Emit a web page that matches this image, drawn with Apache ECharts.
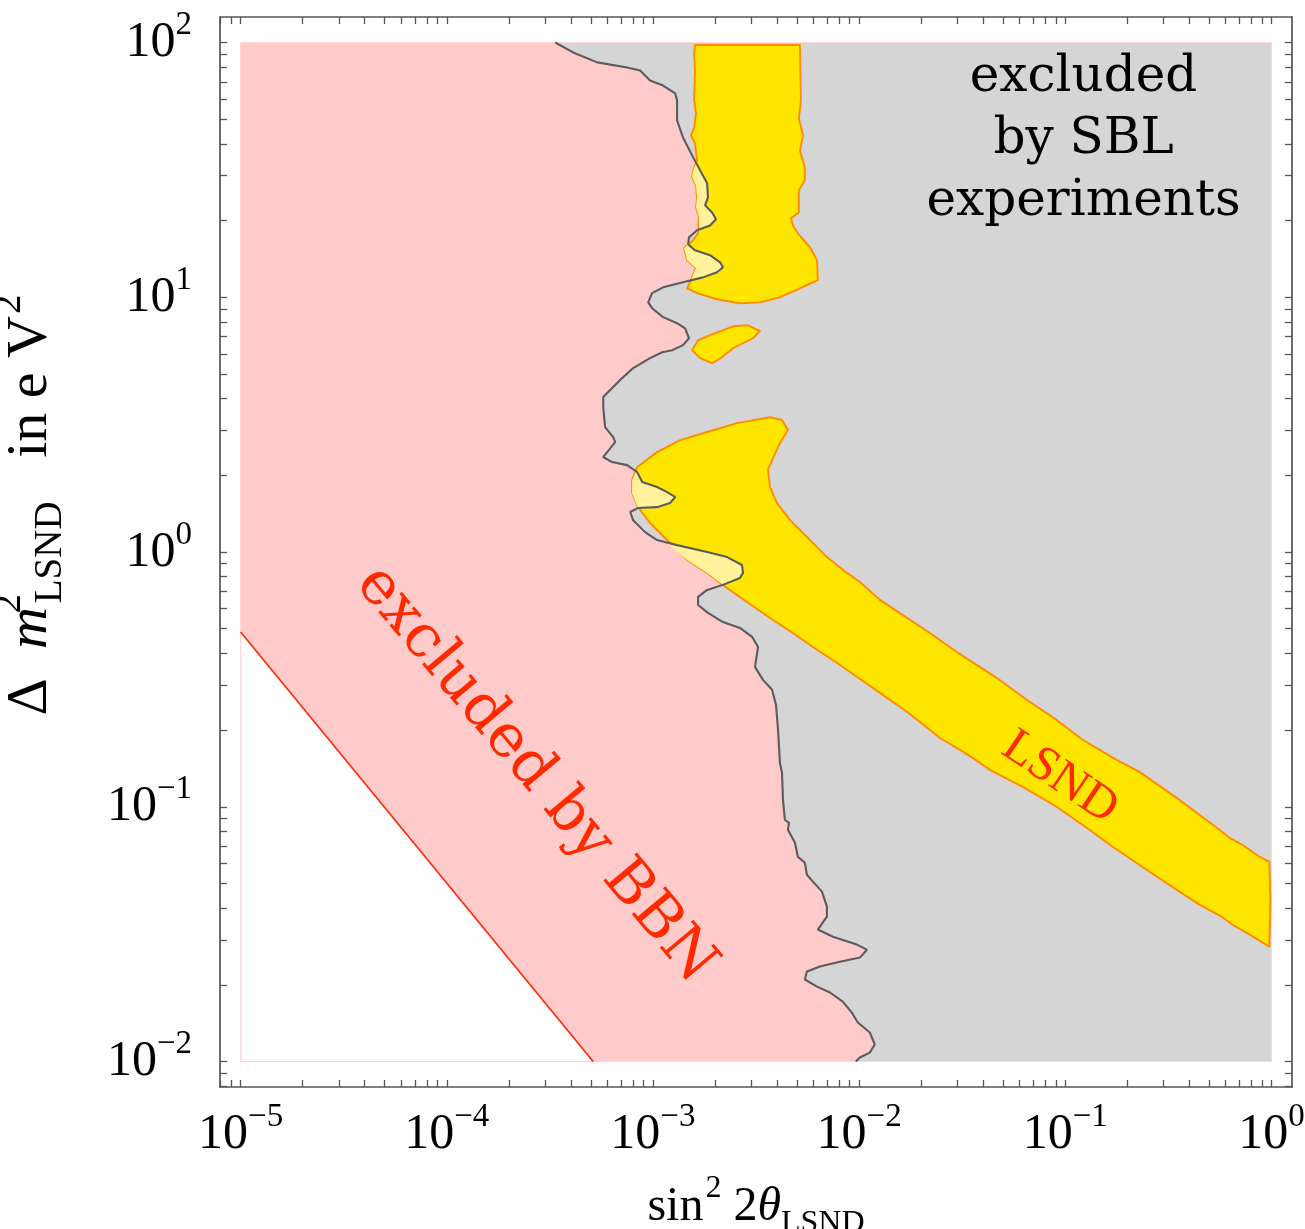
<!DOCTYPE html>
<html>
<head>
<meta charset="utf-8">
<script src="https://cdn.jsdelivr.net/npm/echarts@6/dist/echarts.min.js"></script>
<style>
  html, body { margin: 0; padding: 0; background: #ffffff; }
  #chart { width: 1305px; height: 1229px; }
</style>
</head>
<body>
<div id="chart"></div>
<script>
// Every point is stored as [log10(sin^2 2θ), log10(Δm^2 / eV^2)].

// Axis decades that carry a "10^n" label
const xDecades = [-5, -4, -3, -2, -1, 0];
const yDecades = [-2, -1, 0, 1, 2];
const minorFactors = [2, 3, 4, 5, 6, 7, 8, 9];

// Short-baseline exclusion contour (excluded to its right)
const sblBoundary = [
  [-3.474, 2.000], [-3.387, 1.961], [-3.270, 1.922], [-3.125, 1.902], [-3.062, 1.890],
  [-3.014, 1.851], [-2.951, 1.831], [-2.892, 1.800], [-2.883, 1.773], [-2.883, 1.694],
  [-2.854, 1.627], [-2.805, 1.549], [-2.737, 1.447], [-2.733, 1.392], [-2.747, 1.361],
  [-2.713, 1.333], [-2.694, 1.306], [-2.723, 1.282], [-2.786, 1.263], [-2.825, 1.235],
  [-2.829, 1.208], [-2.796, 1.184], [-2.723, 1.165], [-2.674, 1.137], [-2.660, 1.118],
  [-2.689, 1.098], [-2.757, 1.078], [-2.854, 1.059], [-2.951, 1.039], [-3.004, 1.016],
  [-3.023, 0.980], [-3.004, 0.957], [-2.951, 0.922], [-2.883, 0.898], [-2.844, 0.878],
  [-2.825, 0.839], [-2.854, 0.812], [-2.907, 0.792], [-2.955, 0.784], [-3.014, 0.761],
  [-3.096, 0.722], [-3.159, 0.675], [-3.241, 0.608], [-3.241, 0.569], [-3.232, 0.490],
  [-3.193, 0.451], [-3.183, 0.431], [-3.222, 0.392], [-3.241, 0.373], [-3.198, 0.353],
  [-3.125, 0.341], [-3.077, 0.314], [-3.052, 0.275], [-2.980, 0.255], [-2.931, 0.235],
  [-2.892, 0.216], [-2.917, 0.192], [-2.980, 0.176], [-3.072, 0.173], [-3.110, 0.157],
  [-3.096, 0.125], [-3.038, 0.078], [-2.980, 0.047], [-2.883, 0.027], [-2.737, 0.000],
  [-2.640, -0.020], [-2.568, -0.051], [-2.563, -0.082], [-2.578, -0.102], [-2.660, -0.129],
  [-2.737, -0.149], [-2.781, -0.176], [-2.781, -0.208], [-2.733, -0.239], [-2.660, -0.275],
  [-2.578, -0.298], [-2.519, -0.333], [-2.490, -0.373], [-2.505, -0.451], [-2.466, -0.502],
  [-2.422, -0.541], [-2.403, -0.600], [-2.393, -0.698], [-2.384, -0.827], [-2.374, -0.867],
  [-2.369, -0.973], [-2.360, -1.051], [-2.340, -1.063], [-2.345, -1.090], [-2.311, -1.141],
  [-2.297, -1.196], [-2.263, -1.220], [-2.253, -1.267], [-2.224, -1.294], [-2.180, -1.333],
  [-2.156, -1.392], [-2.156, -1.431], [-2.200, -1.482], [-2.127, -1.510], [-2.011, -1.541],
  [-1.962, -1.561], [-1.996, -1.592], [-2.093, -1.608], [-2.190, -1.627], [-2.253, -1.647],
  [-2.263, -1.678], [-2.204, -1.706], [-2.141, -1.729], [-2.079, -1.765], [-2.035, -1.808],
  [-2.006, -1.847], [-1.948, -1.886], [-1.924, -1.933], [-1.948, -1.965], [-1.996, -1.984],
  [-2.016, -2.000]
];

// BBN bound: the region below/left of this line is allowed
const bbnLine = [[-5.000, -0.314], [-3.290, -2.000]];

// LSND allowed regions
const lsndUpper = [
  [-2.796, 1.990], [-2.800, 1.957], [-2.796, 1.890], [-2.800, 1.773], [-2.791, 1.722],
  [-2.800, 1.667], [-2.815, 1.635], [-2.796, 1.604], [-2.786, 1.537], [-2.805, 1.498],
  [-2.810, 1.471], [-2.791, 1.439], [-2.786, 1.392], [-2.791, 1.353], [-2.776, 1.314],
  [-2.781, 1.251], [-2.805, 1.224], [-2.849, 1.192], [-2.834, 1.145], [-2.791, 1.114],
  [-2.810, 1.078], [-2.834, 1.035], [-2.786, 1.016], [-2.689, 0.992], [-2.578, 0.976],
  [-2.481, 0.980], [-2.384, 1.000], [-2.287, 1.035], [-2.200, 1.067], [-2.204, 1.145],
  [-2.238, 1.196], [-2.297, 1.251], [-2.321, 1.282], [-2.330, 1.310], [-2.292, 1.333],
  [-2.292, 1.420], [-2.263, 1.459], [-2.263, 1.510], [-2.287, 1.576], [-2.272, 1.635],
  [-2.292, 1.702], [-2.282, 1.773], [-2.287, 1.990]
];
const lsndIsland = [
  [-2.810, 0.792], [-2.781, 0.831], [-2.723, 0.851], [-2.611, 0.886], [-2.539, 0.890],
  [-2.481, 0.867], [-2.515, 0.839], [-2.611, 0.800], [-2.665, 0.765], [-2.713, 0.741],
  [-2.771, 0.761]
];
const lsndMain = [
  [-3.077, 0.333], [-2.980, 0.392], [-2.868, 0.439], [-2.737, 0.471], [-2.592, 0.506],
  [-2.432, 0.529], [-2.374, 0.518], [-2.345, 0.478], [-2.384, 0.427], [-2.422, 0.361],
  [-2.442, 0.322], [-2.432, 0.255], [-2.398, 0.192], [-2.335, 0.125], [-2.253, 0.059],
  [-2.156, -0.020], [-2.059, -0.082], [-1.996, -0.118], [-1.899, -0.188], [-1.802, -0.240],
  [-1.657, -0.318], [-1.512, -0.400], [-1.318, -0.502], [-1.187, -0.580], [-1.042, -0.659],
  [-0.916, -0.737], [-0.751, -0.816], [-0.640, -0.863], [-0.446, -0.973], [-0.252, -1.090],
  [-0.203, -1.122], [-0.141, -1.149], [-0.058, -1.196], [-0.010, -1.216], [-0.005, -1.365],
  [-0.010, -1.549], [-0.121, -1.494], [-0.189, -1.463], [-0.242, -1.431], [-0.349, -1.384],
  [-0.446, -1.333], [-0.591, -1.255], [-0.770, -1.157], [-0.882, -1.090], [-1.042, -1.000],
  [-1.206, -0.922], [-1.366, -0.855], [-1.449, -0.808], [-1.512, -0.776], [-1.609, -0.729],
  [-1.657, -0.698], [-1.768, -0.627], [-1.899, -0.553], [-2.011, -0.490], [-2.108, -0.435],
  [-2.224, -0.373], [-2.321, -0.318], [-2.432, -0.259], [-2.544, -0.196], [-2.640, -0.141],
  [-2.737, -0.082], [-2.834, -0.031], [-2.931, 0.047], [-3.014, 0.114], [-3.072, 0.176],
  [-3.101, 0.231], [-3.101, 0.282]
];

// Pieces of the LSND regions that lie on the BBN side of the SBL contour
const lsndPale1 = [
  [-2.791, 1.525], [-2.737, 1.447], [-2.733, 1.392], [-2.747, 1.361], [-2.713, 1.333],
  [-2.694, 1.306], [-2.723, 1.282], [-2.776, 1.267], [-2.776, 1.314], [-2.791, 1.353],
  [-2.786, 1.392], [-2.791, 1.439], [-2.810, 1.471], [-2.805, 1.498]
];
const lsndPale2 = [
  [-2.829, 1.208], [-2.796, 1.184], [-2.723, 1.165], [-2.674, 1.137], [-2.660, 1.118],
  [-2.689, 1.098], [-2.757, 1.078], [-2.815, 1.067], [-2.810, 1.078], [-2.791, 1.114],
  [-2.834, 1.145], [-2.849, 1.192]
];
const lsndPale3 = [
  [-3.081, 0.318], [-3.052, 0.275], [-2.980, 0.255], [-2.931, 0.235], [-2.892, 0.216],
  [-2.917, 0.192], [-2.980, 0.176], [-3.072, 0.173], [-3.101, 0.231], [-3.101, 0.282]
];
const lsndPale4 = [
  [-2.933, 0.034], [-2.883, 0.027], [-2.737, 0.000], [-2.640, -0.020], [-2.568, -0.051],
  [-2.563, -0.082], [-2.578, -0.102], [-2.660, -0.129], [-2.737, -0.082], [-2.834, -0.031]
];

// ---- scale set-up ----
const X_MIN = -5.1, X_MAX = 0.1;
const Y_MIN = -2.1, Y_MAX = 2.1;
const X_LO = -5, X_HI = 0, Y_LO = -2, Y_HI = 2;   // extent of the computed plane

function logTicks(lo, hi) {
  const out = [];
  for (let d = Math.floor(lo); d <= Math.ceil(hi); d++) {
    for (const k of [1].concat(minorFactors)) {
      const v = d + Math.log10(k);
      if (v >= lo - 1e-9 && v <= hi + 1e-9) out.push(+v.toFixed(6));
    }
  }
  return out;
}
const xTicks = logTicks(X_MIN, X_MAX);
const yTicks = logTicks(Y_MIN, Y_MAX);

const FRAME = '#555555';
const SERIF = '"Liberation Serif", "Times New Roman", serif';
const TYPE = '"DejaVu Serif", serif';

function expText(v) {
  const n = Math.round(v);
  return n < 0 ? '\u2212' + Math.abs(n) : String(n);
}

function axisBase(min, max, position, ticks) {
  return {
    type: 'value', min: min, max: max, position: position,
    axisLine: { show: true, onZero: false, lineStyle: { color: FRAME, width: 1.7 } },
    axisTick: { show: true, inside: true, length: 7, customValues: ticks,
                lineStyle: { color: FRAME, width: 1.3 } },
    axisLabel: { show: false },
    splitLine: { show: false },
    minorTick: { show: false }
  };
}

const xBottom = axisBase(X_MIN, X_MAX, 'bottom', xTicks);
xBottom.axisLabel = {
  show: true, customValues: xDecades, margin: 14,
  formatter: v => '{b|10}{s|' + expText(v) + '}',
  rich: {
    b: { fontFamily: SERIF, fontSize: 50, color: '#000', verticalAlign: 'bottom', lineHeight: 50 },
    s: { fontFamily: SERIF, fontSize: 33, color: '#000', verticalAlign: 'bottom', padding: [0, 0, 26, 0] }
  }
};
xBottom.name = '{r|sin}{p|2}{r| 2}{i|\u03b8}{u|LSND}';
xBottom.nameLocation = 'middle';
xBottom.nameGap = 86;
xBottom.nameTextStyle = {
  fontFamily: SERIF, color: '#000',
  rich: {
    r: { fontFamily: SERIF, fontSize: 48, color: '#000', verticalAlign: 'bottom', padding: [0, 0, 9, 0] },
    i: { fontFamily: SERIF, fontSize: 48, fontStyle: 'italic', color: '#000', verticalAlign: 'bottom', padding: [0, 0, 9, 0] },
    p: { fontFamily: SERIF, fontSize: 32, color: '#000', verticalAlign: 'bottom', padding: [0, 0, 35, 2] },
    u: { fontFamily: SERIF, fontSize: 32, color: '#000', verticalAlign: 'bottom', padding: [0, 0, 0, 0] }
  }
};
const xTop = axisBase(X_MIN, X_MAX, 'top', xTicks);

const yLeft = axisBase(Y_MIN, Y_MAX, 'left', yTicks);
yLeft.axisLabel = {
  show: true, customValues: yDecades, margin: 28,
  formatter: v => '{b|10}{s|' + expText(v) + '}',
  rich: {
    b: { fontFamily: SERIF, fontSize: 50, color: '#000', verticalAlign: 'bottom', lineHeight: 50, padding: [0, 0, 8, 0] },
    s: { fontFamily: SERIF, fontSize: 33, color: '#000', verticalAlign: 'bottom', padding: [0, 0, 34, 0] }
  }
};
yLeft.name = '{r|\u0394  }{i|m}{p|2}{u|LSND}{r|   in e V}{q|2}';
yLeft.nameLocation = 'middle';
yLeft.nameRotate = 90;
yLeft.nameGap = 150;
yLeft.nameTextStyle = {
  fontFamily: SERIF, color: '#000', padding: [0, 0, 0, 94],
  rich: {
    r: { fontFamily: SERIF, fontSize: 58, color: '#000', verticalAlign: 'bottom', padding: [0, 0, 10, 0] },
    i: { fontFamily: SERIF, fontSize: 58, fontStyle: 'italic', color: '#000', verticalAlign: 'bottom', padding: [0, 0, 10, 0] },
    p: { fontFamily: SERIF, fontSize: 39, color: '#000', verticalAlign: 'bottom', width: 1, padding: [0, 0, 41, 3] },
    q: { fontFamily: SERIF, fontSize: 39, color: '#000', verticalAlign: 'bottom', padding: [0, 0, 41, 2] },
    u: { fontFamily: SERIF, fontSize: 39, color: '#000', verticalAlign: 'bottom', padding: [0, 0, 0, 0] }
  }
};
const yRight = axisBase(Y_MIN, Y_MAX, 'right', yTicks);

// ---- drawing helpers ----
function polygonSeries(name, pts, style, z) {
  return {
    type: 'custom', name: name, silent: true, z: z,
    xAxisIndex: 0, yAxisIndex: 0,
    data: [pts[0]],
    encode: { x: 0, y: 1 },
    clip: false,
    renderItem: (params, api) => ({
      type: 'polygon',
      shape: { points: pts.map(p => api.coord(p)) },
      style: style
    })
  };
}

// angleDeg: clockwise tilt of the text baseline
function textSeries(name, at, text, style, angleDeg, z) {
  return {
    type: 'custom', name: name, silent: true, z: z,
    xAxisIndex: 0, yAxisIndex: 0,
    data: [at], encode: { x: 0, y: 1 },
    clip: false,
    renderItem: (params, api) => {
      const c = api.coord(at);
      return {
        type: 'text', x: c[0], y: c[1], rotation: -angleDeg * Math.PI / 180,
        style: Object.assign({ text: text, align: 'center', verticalAlign: 'middle' }, style)
      };
    }
  };
}

// BBN-excluded region: the whole plane above the BBN line
const bbnRegion = [[X_LO, Y_HI], [X_HI, Y_HI], [X_HI, Y_LO], bbnLine[1], bbnLine[0]];
// SBL-excluded region: right of the contour
const sblRegion = sblBoundary.concat([[X_HI, Y_LO], [X_HI, Y_HI]]);
const planeFrame = [[X_LO, Y_HI], [X_HI, Y_HI], [X_HI, Y_LO], [X_LO, Y_LO]];

const YELLOW = { fill: '#ffe600', stroke: '#ff8c00', lineWidth: 1.9, lineJoin: 'round' };
const PALE = { fill: '#fff29a', stroke: null };

const option = {
  backgroundColor: '#ffffff',
  animation: false,
  grid: { left: 220, top: 17, right: 13, bottom: 142, containLabel: false, outerBoundsMode: 'none' },
  xAxis: [xBottom, xTop],
  yAxis: [yLeft, yRight],
  series: [
    polygonSeries('BBN excluded', bbnRegion, { fill: '#ffcaca', stroke: null }, 1),
    polygonSeries('SBL excluded', sblRegion, { fill: '#d5d5d5', stroke: null }, 2),
    polygonSeries('frame', planeFrame, { fill: null, stroke: '#ffd4d4', lineWidth: 1.2 }, 3),
    polygonSeries('LSND upper', lsndUpper, YELLOW, 4),
    polygonSeries('LSND island', lsndIsland, YELLOW, 4),
    polygonSeries('LSND main', lsndMain, YELLOW, 4),
    polygonSeries('LSND pale 1', lsndPale1, PALE, 5),
    polygonSeries('LSND pale 2', lsndPale2, PALE, 5),
    polygonSeries('LSND pale 3', lsndPale3, PALE, 5),
    polygonSeries('LSND pale 4', lsndPale4, PALE, 5),
    {
      type: 'line', name: 'SBL contour', data: sblBoundary, z: 6,
      showSymbol: false, symbol: 'none', silent: true, clip: false, animation: false,
      lineStyle: { color: '#5c5c5c', width: 2.1 }
    },
    {
      type: 'line', name: 'BBN bound', data: bbnLine, z: 6,
      showSymbol: false, symbol: 'none', silent: true, clip: false, animation: false,
      lineStyle: { color: '#ff2a0a', width: 1.7 }
    },
    textSeries('BBN label', [-3.571, -0.875], 'excluded by BBN',
      { fill: '#ff2a00', fontFamily: TYPE, fontSize: 60 }, 50, 7),
    textSeries('LSND label', [-1.027, -0.886], 'LSND',
      { fill: '#ff2a00', fontFamily: SERIF, fontSize: 49 }, 34, 7),
    textSeries('SBL label', [-0.911, 1.616], 'excluded\nby SBL\nexperiments',
      { fill: '#000000', fontFamily: TYPE, fontSize: 50, lineHeight: 62 }, 0, 7)
  ]
};

const chart = echarts.init(document.getElementById('chart'), null, { renderer: 'canvas' });
chart.setOption(option);
</script>
</body>
</html>
